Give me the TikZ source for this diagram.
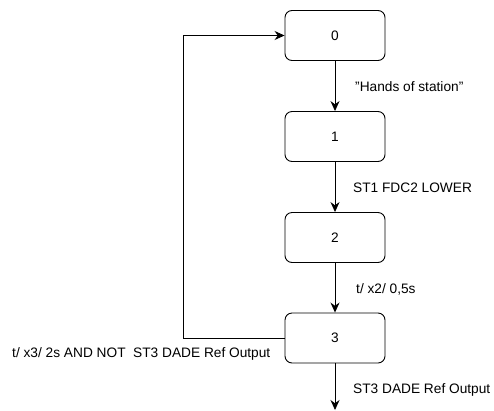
\documentclass[tikz,border=0pt]{standalone}
\usepackage{fontspec}
\setmainfont{Liberation Sans}
\usetikzlibrary{arrows.meta}
\begin{document}
\begin{tikzpicture}[x=1pt,y=-1pt,>={Stealth[length=10pt,width=9pt]}, every node/.style={font=\fontsize{13.7}{16}\selectfont},state/.style={draw,rounded corners=7pt,minimum width=100pt,minimum height=50pt,line width=0.9pt},cond/.style={anchor=west,inner sep=0pt},]
\useasboundingbox (0,0) rectangle (494,410);
\node[state] (s0) at (335,35.5) {0};
\node[state] (s1) at (335,136.5) {1};
\node[state] (s2) at (335,237.5) {2};
\node[state] (s3) at (335,338) {3};
\coordinate (out) at (335,410);
\draw[->,line width=0.9pt] (s0) -- (s1);
\draw[->,line width=0.9pt] (s1) -- (s2);
\draw[->,line width=0.9pt] (s2) -- (s3);
\draw[->,line width=0.9pt] (s3) -- (out);
\draw[->,line width=0.9pt] (s3.west) -- ++(-101,0) |- (s0.west);
\node[cond] (c0) at (355,87) {\symbol{34}Hands of station\symbol{34}};
\node[cond] (c1) at (353,188) {ST1 FDC2 LOWER};
\node[cond] (c2) at (356,289.5) {t/ x2/ 0,5s};
\node[cond] (c3) at (12,354) {t/ x3/ 2s AND NOT\ \ ST3 DADE Ref Output};
\node[cond] (c4) at (353,390) {ST3 DADE Ref Output};
\end{tikzpicture}
\end{document}
